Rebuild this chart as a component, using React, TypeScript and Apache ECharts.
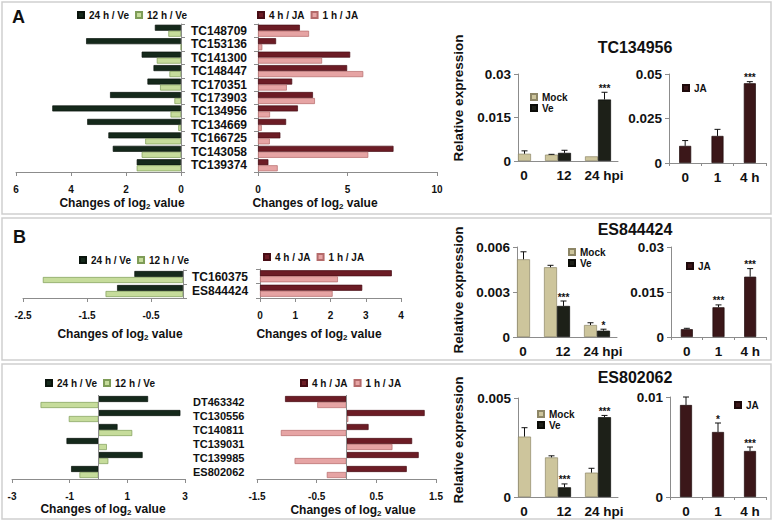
import React, { useEffect, useRef } from 'react';
import * as echarts from 'echarts';

const FONT = '"Liberation Sans", Arial, Helvetica, sans-serif';

// ---------- Panel A : log2 changes ----------
const catsA = ['TC148709', 'TC153136', 'TC141300', 'TC148447', 'TC170351', 'TC173903', 'TC134956', 'TC134669', 'TC166725', 'TC143058', 'TC139374'];
const aVe24 = [0.95, 3.45, 1.43, 1.0, 1.22, 2.58, 4.68, 3.41, 2.64, 2.48, 1.61];
const aVe12 = [0.46, 0, 0.88, 0.42, 0.76, 0.24, 0.38, 0.1, 1.3, 1.43, 1.61];
const aJA4 = [2.34, 1.01, 5.15, 4.98, 1.91, 3.07, 2.23, 1.57, 1.25, 7.57, 0.58];
const aJA1 = [2.85, 0.24, 3.58, 5.88, 1.61, 3.18, 0.67, 0.21, 0.66, 6.16, 1.1];

// ---------- Panel B (top) ----------
const catsB1 = ['TC160375', 'ES844424'];
const b1Ve24 = [-0.76, -1.03];
const b1Ve12 = [-2.19, -1.21];
const b1JA4 = [3.74, 2.9];
const b1JA1 = [2.21, 2.06];

// ---------- Panel B (bottom) ----------
const catsB2 = ['DT463342', 'TC130556', 'TC140811', 'TC139031', 'TC139985', 'ES802062'];
const b2Ve24 = [1.72, 2.84, 0.66, -1.11, 1.53, -0.95];
const b2Ve12 = [-2.01, -1.03, 1.17, 0.29, 0.34, -0.66];
const b2JA4 = [-1.03, 1.31, 0.37, 1.1, 1.21, 1.01];
const b2JA1 = [-0.49, 0.03, -1.1, 0.77, -0.87, -0.33];

// ---------- qRT-PCR ----------
const hpiLabels = ['0', '12', '24 hpi'];
const jaLabels = ['0', '1', '4 h'];

// TC134956
const tcMock = [0.0025, 0.0022, 0.0016];
const tcMockErr = [0.001, 0.0001, 0];
const tcVe = [null, 0.0028, 0.0212];
const tcVeErr = [null, 0.0009, 0.0025];
const tcVeSig = ['', '', '***'];
const tcJA = [0.0096, 0.0152, 0.0448];
const tcJAErr = [0.003, 0.0037, 0.0009];
const tcJASig = ['', '', '***'];

// ES844424
const e4Mock = [0.00518, 0.00465, 0.0008];
const e4MockErr = [0.0005, 0.00013, 0.00015];
const e4Ve = [null, 0.00207, 0.00042];
const e4VeErr = [null, 0.00033, 0.0001];
const e4VeSig = ['', '***', '*'];
const e4JA = [0.0026, 0.0099, 0.0201];
const e4JAErr = [0.0003, 0.0008, 0.0027];
const e4JASig = ['', '***', '***'];

// ES802062
const e2Mock = [0.00305, 0.002, 0.00123];
const e2MockErr = [0.00045, 0.00008, 0.00022];
const e2Ve = [null, 0.00049, 0.00403];
const e2VeErr = [null, 0.00017, 0.00009];
const e2VeSig = ['', '***', '***'];
const e2JA = [0.0092, 0.0065, 0.0046];
const e2JAErr = [0.0008, 0.0009, 0.0004];
const e2JASig = ['', '*', '***'];

const COL = {
  ve24: '#15291b', ve24b: '#0a140d',
  ve12: '#c6dc9b', ve12b: '#7e9c57',
  ja4: '#6c1c25', ja4b: '#470d15',
  ja1: '#e6a4a4', ja1b: '#b46a6a',
  mock: '#cdc59c', mockb: '#8d8666',
  ve: '#1d2018', veb: '#0b0c08',
  ja: '#3b1719', jab: '#1e0a0b',
  axis: '#8c8c8c',
};

function bold(size: number) {
  return { fontFamily: FONT, fontWeight: 'bold' as const, fontSize: size, color: '#111' };
}

function buildOption() {
  const grids: any[] = [];
  const xAxes: any[] = [];
  const yAxes: any[] = [];
  const series: any[] = [];
  const legends: any[] = [];
  const graphics: any[] = [];
  const lineStyle = { color: COL.axis, width: 1 };

  const addGrid = (r: number[]) => {
    grids.push({ left: r[0], top: r[1], width: r[2], height: r[3] });
    return grids.length - 1;
  };

  function log2Chart(c: any) {
    const gi = addGrid(c.rect);
    xAxes.push({
      gridIndex: gi, type: 'value', min: c.min, max: c.max, interval: c.interval, inverse: !!c.inverse,
      axisLine: { show: true, onZero: false, lineStyle },
      axisTick: { show: true, length: 4, lineStyle },
      splitLine: { show: false },
      axisLabel: { ...bold(10), margin: 12, showMaxLabel: c.showMaxLabel !== false },
    });
    const xi = xAxes.length - 1;
    yAxes.push({
      gridIndex: gi, type: 'category', data: c.cats, inverse: true, position: c.catSide,
      axisLine: { show: c.catLine, onZero: false, lineStyle },
      axisTick: { show: c.catLine, length: 4, lineStyle },
      axisLabel: { show: c.showLabels, interval: 0, ...bold(c.labelSize || 12), margin: c.labelMargin || 10, padding: [c.labelShift || 0, 0, 0, 0] },
    });
    const yi = yAxes.length - 1;
    [c.a, c.b].forEach((d: number[], k: number) => {
      const s: any = {
        type: 'bar', name: c.names[k], xAxisIndex: xi, yAxisIndex: yi, data: d,
        barWidth: 6, barGap: '0%',
        itemStyle: { color: c.colors[k], borderColor: c.borders[k], borderWidth: 0.7 },
      };
      if (k === 0 && c.zeroLine) {
        s.markLine = {
          silent: true, symbol: ['none', 'none'], label: { show: false },
          lineStyle: { color: COL.axis, type: 'solid', width: 1 },
          data: [{ xAxis: 0 }],
        };
      }
      series.push(s);
    });
  }

  function errSeries(xi: number, yi: number, items: number[][], sig: string[], half: number) {
    return {
      type: 'custom', xAxisIndex: xi, yAxisIndex: yi, silent: true, z: 5,
      dimensions: ['x', 'y', 'e', 's'], encode: { x: 0, y: 1 },
      data: items,
      renderItem: (params: any, api: any) => {
        const x = api.value(0), v = api.value(1), e = api.value(2), s = api.value(3);
        const p0 = api.coord([x, v]);
        const p1 = api.coord([x, v + (e || 0)]);
        const cx = p0[0] + s * half;
        const kids: any[] = [];
        if (e > 0) {
          kids.push({ type: 'line', shape: { x1: cx, y1: p0[1], x2: cx, y2: p1[1] }, style: { stroke: '#111', lineWidth: 1 } });
          kids.push({ type: 'line', shape: { x1: cx - 3, y1: p1[1], x2: cx + 3, y2: p1[1] }, style: { stroke: '#111', lineWidth: 1 } });
        }
        const t = sig[params.dataIndex];
        if (t) {
          kids.push({
            type: 'text', x: cx, y: p1[1] + 1,
            style: { text: t, fill: '#111', font: `bold 10px ${FONT}`, align: 'center', verticalAlign: 'bottom' },
          });
        }
        return { type: 'group', children: kids };
      },
    };
  }

  function mockVeChart(c: any) {
    const gi = addGrid(c.rect);
    xAxes.push({
      gridIndex: gi, type: 'value', min: 0, max: 2.5, interval: 1,
      axisLine: { show: true, onZero: false, lineStyle },
      axisTick: { show: false }, splitLine: { show: false },
      axisLabel: {
        ...bold(13.5), margin: 7, padding: [0, 0, 0, 12], showMaxLabel: false,
        formatter: (v: number) => (Number.isInteger(v) ? hpiLabels[v] ?? '' : ''),
      },
    });
    const xi = xAxes.length - 1;
    yAxes.push({
      gridIndex: gi, type: 'value', min: 0, max: c.max, interval: c.interval,
      axisLine: { show: true, lineStyle }, axisTick: { show: true, length: 4, lineStyle },
      splitLine: { show: false }, axisLabel: { ...bold(13.5), margin: 7 },
    });
    const yi = yAxes.length - 1;
    const mockData: any[] = [];
    const veData: any[] = [];
    const items: number[][] = [];
    const sig: string[] = [];
    c.mock.forEach((m: number, i: number) => {
      if (c.ve[i] == null) {
        // the 0 h control sits in the right-hand slot of its group
        veData.push({ value: [i, m], itemStyle: { color: COL.mock, borderColor: COL.mockb } });
        items.push([i, m, c.mockErr[i], 1]);
        sig.push('');
      } else {
        mockData.push([i, m]);
        veData.push([i, c.ve[i]]);
        items.push([i, m, c.mockErr[i], -1]);
        sig.push('');
        items.push([i, c.ve[i], c.veErr[i], 1]);
        sig.push(c.veSig[i]);
      }
    });
    series.push({
      type: 'bar', name: 'Mock', xAxisIndex: xi, yAxisIndex: yi, data: mockData, barWidth: 13, barGap: '0%',
      itemStyle: { color: COL.mock, borderColor: COL.mockb, borderWidth: 0.7 },
    });
    series.push({
      type: 'bar', name: 'Ve', xAxisIndex: xi, yAxisIndex: yi, data: veData, barWidth: 13, barGap: '0%',
      itemStyle: { color: COL.ve, borderColor: COL.veb, borderWidth: 0.7 },
    });
    series.push(errSeries(xi, yi, items, sig, 6.5));
  }

  function jaChart(c: any) {
    const gi = addGrid(c.rect);
    xAxes.push({
      gridIndex: gi, type: 'category', data: jaLabels, boundaryGap: true,
      axisLine: { show: true, onZero: false, lineStyle }, axisTick: { show: true, length: 3, lineStyle },
      axisLabel: { ...bold(13.5), margin: 7, interval: 0 },
    });
    const xi = xAxes.length - 1;
    yAxes.push({
      gridIndex: gi, type: 'value', min: 0, max: c.max, interval: c.interval,
      axisLine: { show: true, lineStyle }, axisTick: { show: true, length: 4, lineStyle },
      splitLine: { show: false }, axisLabel: { ...bold(13.5), margin: 7 },
    });
    const yi = yAxes.length - 1;
    series.push({
      type: 'bar', name: 'JA', xAxisIndex: xi, yAxisIndex: yi, data: c.ja, barWidth: 12,
      itemStyle: { color: COL.ja, borderColor: COL.jab, borderWidth: 0.7 },
    });
    series.push(errSeries(xi, yi, c.ja.map((v: number, i: number) => [i, v, c.err[i], 0]), c.sig, 0));
  }

  const veNames = ['24 h / Ve', '12 h / Ve'];
  const jaNames = ['4 h / JA', '1 h / JA'];
  const veCols = [COL.ve24, COL.ve12], veBor = [COL.ve24b, COL.ve12b];
  const jaCols = [COL.ja4, COL.ja1], jaBor = [COL.ja4b, COL.ja1b];

  // Panel A
  log2Chart({ rect: [16, 24, 165, 148], cats: catsA, a: aVe24, b: aVe12, names: veNames, colors: veCols, borders: veBor, min: 0, max: 6, interval: 2, inverse: true, catSide: 'right', showLabels: true, labelSize: 12, labelMargin: 10, catLine: true });
  log2Chart({ rect: [258, 24, 179, 148], cats: catsA, a: aJA4, b: aJA1, names: jaNames, colors: jaCols, borders: jaBor, min: 0, max: 10, interval: 5, catSide: 'left', showLabels: false, catLine: true });
  mockVeChart({ rect: [518, 74, 100, 87], mock: tcMock, mockErr: tcMockErr, ve: tcVe, veErr: tcVeErr, veSig: tcVeSig, max: 0.03, interval: 0.015 });
  jaChart({ rect: [669, 74, 97, 89], ja: tcJA, err: tcJAErr, sig: tcJASig, max: 0.05, interval: 0.025 });

  // Panel B top
  log2Chart({ rect: [23, 270, 160, 28], cats: catsB1, a: b1Ve24, b: b1Ve12, names: veNames, colors: veCols, borders: veBor, min: -2.5, max: 0, interval: 1, catSide: 'right', showLabels: true, labelSize: 12, labelMargin: 9, catLine: true, showMaxLabel: false });
  log2Chart({ rect: [260, 269, 141, 29], cats: catsB1, a: b1JA4, b: b1JA1, names: jaNames, colors: jaCols, borders: jaBor, min: 0, max: 4, interval: 1, catSide: 'left', showLabels: false, catLine: true });
  mockVeChart({ rect: [517, 247, 100, 90], mock: e4Mock, mockErr: e4MockErr, ve: e4Ve, veErr: e4VeErr, veSig: e4VeSig, max: 0.006, interval: 0.003 });
  jaChart({ rect: [671, 247, 95, 90], ja: e4JA, err: e4JAErr, sig: e4JASig, max: 0.03, interval: 0.015 });

  // Panel B bottom
  log2Chart({ rect: [12, 395, 173, 84], cats: catsB2, a: b2Ve24, b: b2Ve12, names: veNames, colors: veCols, borders: veBor, min: -3, max: 3, interval: 2, catSide: 'right', showLabels: true, labelSize: 11, labelMargin: 8, labelShift: 4, catLine: false, zeroLine: true });
  log2Chart({ rect: [257, 395, 179, 84], cats: catsB2, a: b2JA4, b: b2JA1, names: jaNames, colors: jaCols, borders: jaBor, min: -1.5, max: 1.5, interval: 1, catSide: 'left', showLabels: false, catLine: false, zeroLine: true });
  mockVeChart({ rect: [518, 398, 100, 99], mock: e2Mock, mockErr: e2MockErr, ve: e2Ve, veErr: e2VeErr, veSig: e2VeSig, max: 0.005, interval: 0.005 });
  jaChart({ rect: [670, 397, 96, 100], ja: e2JA, err: e2JAErr, sig: e2JASig, max: 0.01, interval: 0.01 });

  // Legends
  const leg = (names: string[], left: number, top: number, vertical = false) => {
    legends.push({
      data: names, left, top, orient: vertical ? 'vertical' : 'horizontal',
      itemWidth: 6, itemHeight: 6, itemGap: vertical ? 0 : 6, icon: 'rect', selectedMode: false, padding: 0,
      textStyle: { ...bold(10), lineHeight: vertical ? 11 : 12 },
    });
  };
  leg(veNames, 77, 9); leg(jaNames, 257, 9); leg(['Mock', 'Ve'], 530, 91.5, true); leg(['JA'], 682, 82);
  leg(veNames, 79, 254); leg(jaNames, 263, 251); leg(['Mock', 'Ve'], 568, 246.5, true); leg(['JA'], 686, 260);
  leg(veNames, 45, 377); leg(jaNames, 300, 377); leg(['Mock', 'Ve'], 537, 408.5, true); leg(['JA'], 734, 399);

  // Graphics: frames, letters, titles, axis names
  const frame = (y: number, h: number) => graphics.push({ type: 'rect', z: -1, silent: true, shape: { x: 2, y, width: 769, height: h }, style: { fill: 'none', stroke: '#cfcfcf', lineWidth: 1.5 } });
  frame(2, 212); frame(218, 142); frame(364, 155);
  const txt = (text: string, x: number, y: number, size: number, align = 'center', rotation = 0, rich?: any) =>
    graphics.push({
      type: 'text', x, y, rotation, silent: true,
      style: { text, font: `bold ${size}px ${FONT}`, fill: '#111', align, verticalAlign: 'middle', textAlign: align, textVerticalAlign: 'middle', rich },
    });
  txt('A', 12, 17, 18, 'left');
  txt('B', 13, 237, 18, 'left');
  txt('TC134956', 635, 47, 16);
  txt('ES844424', 635, 229, 16);
  txt('ES802062', 635, 377, 16);
  txt('Relative expression', 458, 98, 13.5, 'center', Math.PI / 2);
  txt('Relative expression', 458, 290, 13.5, 'center', Math.PI / 2);
  txt('Relative expression', 458, 440, 13.5, 'center', Math.PI / 2);
  const sub = { s: { font: `bold 8px ${FONT}`, fill: '#111', verticalAlign: 'bottom', padding: [6, 0, 0, 0] }, n: { font: `bold 12px ${FONT}`, fill: '#111' } };
  const chg = '{n|Changes of log}{s|2}{n| value}';
  txt(chg, 122, 203, 12, 'center', 0, sub);
  txt(chg, 315, 203, 12, 'center', 0, sub);
  txt(chg, 120, 334, 12, 'center', 0, sub);
  txt(chg, 319, 334, 12, 'center', 0, sub);
  txt(chg, 103, 509, 12, 'center', 0, sub);
  txt(chg, 353, 510, 12, 'center', 0, sub);

  return {
    animation: false,
    backgroundColor: '#ffffff',
    textStyle: { fontFamily: FONT },
    grid: grids,
    xAxis: xAxes,
    yAxis: yAxes,
    legend: legends,
    series,
    graphic: { elements: graphics },
  };
}

export default function App() {
  const ref = useRef<HTMLDivElement>(null);
  useEffect(() => {
    document.body.style.margin = '0';
    const chart = echarts.init(ref.current as HTMLDivElement, undefined, { renderer: 'svg' });
    chart.setOption(buildOption() as any);
    return () => chart.dispose();
  }, []);
  return <div ref={ref} style={{ width: 774, height: 523, background: '#fff' }} />;
}
